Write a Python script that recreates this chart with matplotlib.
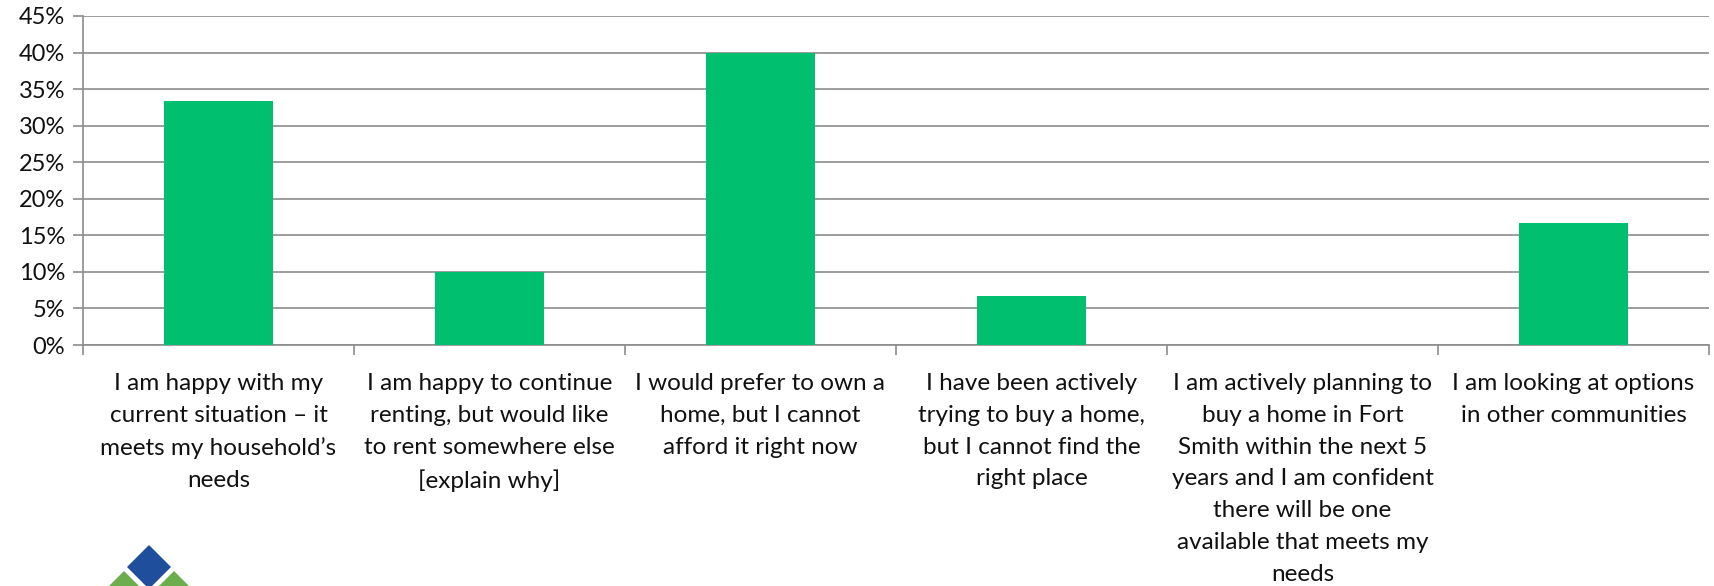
import matplotlib
matplotlib.use("Agg")
import matplotlib.pyplot as plt
from matplotlib.patches import Polygon
from matplotlib.ticker import FuncFormatter, FixedLocator

categories = [
    "I am happy with my\ncurrent situation \u2013 it\nmeets my household\u2019s\nneeds",
    "I am happy to continue\nrenting, but would like\nto rent somewhere else\n[explain why]",
    "I would prefer to own a\nhome, but I cannot\nafford it right now",
    "I have been actively\ntrying to buy a home,\nbut I cannot find the\nright place",
    "I am actively planning to\nbuy a home in Fort\nSmith within the next 5\nyears and I am confident\nthere will be one\navailable that meets my\nneeds",
    "I am looking at options\nin other communities",
]
values = [33.33, 10.0, 40.0, 6.67, 0.0, 16.67]
yticks = [0, 5, 10, 15, 20, 25, 30, 35, 40, 45]

plt.rcParams['font.family'] = ['Lato', 'DejaVu Sans']

W, H = 1714, 586
fig = plt.figure(figsize=(W / 100, H / 100), dpi=100)
ax = fig.add_axes([83 / W, 1 - 345 / H, (1709 - 83) / W, (345 - 16) / H])

grid_c = '#8c8c8c'
x = list(range(len(categories)))
ax.bar(x, values, width=0.4, color='#00BF6F', zorder=3)
ax.set_xlim(-0.5, len(categories) - 0.5)
ax.set_ylim(0, 45)
ax.set_yticks(yticks)
ax.yaxis.set_major_formatter(FuncFormatter(lambda v, p: f"{int(v)}%"))
ax.yaxis.grid(True, color=grid_c, linewidth=1.2, zorder=0)
ax.set_axisbelow(True)

ax.set_xticks(x)
ax.set_xticklabels(categories, fontsize=17.5, linespacing=1.64, color='#111111')
ax.xaxis.set_minor_locator(FixedLocator([i - 0.5 for i in range(len(categories) + 1)]))
ax.tick_params(axis='x', which='major', length=0, pad=20)
ax.tick_params(axis='x', which='minor', length=7, width=1.2, color=grid_c)
ax.tick_params(axis='y', length=7, width=1.2, color=grid_c, labelsize=17, pad=6, labelcolor='#111111')

for s in ['top', 'right']:
    ax.spines[s].set_visible(False)
for s in ['left', 'bottom']:
    ax.spines[s].set_color(grid_c)
    ax.spines[s].set_linewidth(1.2)

# logo (decoration, partly cut off at bottom)
lax = fig.add_axes([0, 0, 1, 1], zorder=-1)
lax.set_xlim(0, W)
lax.set_ylim(H, 0)
lax.axis('off')
def diamond(cx, cy, r, color):
    lax.add_patch(Polygon([(cx, cy - r), (cx + r, cy), (cx, cy + r), (cx - r, cy)],
                          closed=True, color=color, lw=0))
diamond(149, 567, 22, '#1f4e9c')
diamond(124, 594, 23, '#6cae4e')
diamond(174, 594, 23, '#6cae4e')

fig.savefig('out.png', dpi=100)
